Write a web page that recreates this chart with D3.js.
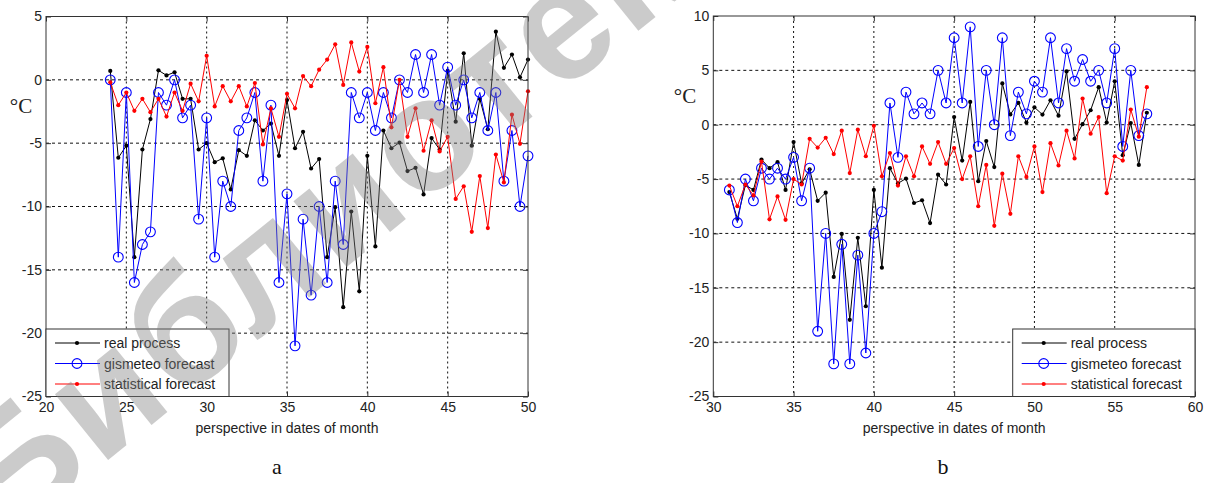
<!DOCTYPE html>
<html><head><meta charset="utf-8">
<script src="https://cdn.jsdelivr.net/npm/d3@7"></script>
<style>body{margin:0;background:#fff;} svg{display:block;}</style>
</head><body>
<svg id="c" width="1205" height="483"></svg>
<script>
// ---------- data ----------
// real process (same measured series used in both panels)
const realDates = [24,24.5,25,25.5,26,26.5,27,27.5,28,28.5,29,29.5,30,30.5,31,31.5,32,32.5,33,33.5,34,34.5,35,35.5,36,36.5,37,37.5,38,38.5,39,39.5,40,40.5,41,41.5,42,42.5,43,43.5,44,44.5,45,45.5,46,46.5,47,47.5,48,48.5,49,49.5,50,50.5,51,51.5,52,52.5,53,53.5,54,54.5,55,55.5,56,56.5,57];
const realTemps = [0.7,-6.15,-5.2,-14.0,-5.5,-3.1,0.75,0.35,0.6,-1.5,-1.5,-5.5,-5.0,-6.5,-6.2,-8.65,-5.55,-6.0,-3.2,-4.0,-3.45,-6.0,-1.6,-5.4,-4.1,-7.0,-6.25,-14.0,-10.05,-17.95,-10.4,-16.7,-6.0,-13.15,-4.0,-5.4,-4.95,-7.2,-6.95,-9.05,-4.6,-5.5,0.7,-3.3,2.1,-5.2,-1.5,-3.9,3.8,0.95,2.0,0.2,1.6,0.93,2.25,0.83,4.9,-1.3,0.05,1.33,3.45,0.2,4.0,-2.8,0.15,-3.7,1.1];

// panel a forecasts
const datesA = [24,24.5,25,25.5,26,26.5,27,27.5,28,28.5,29,29.5,30,30.5,31,31.5,32,32.5,33,33.5,34,34.5,35,35.5,36,36.5,37,37.5,38,38.5,39,39.5,40,40.5,41,41.5,42,42.5,43,43.5,44,44.5,45,45.5,46,46.5,47,47.5,48,48.5,49,49.5,50];
const gismeteoA = [0,-14,-1,-16,-13,-12,-1,-2,0,-3,-2,-11,-3,-14,-8,-10,-4,-3,-1,-8,-2,-16,-9,-21,-11,-17,-10,-16,-8,-13,-1,-3,-1,-4,-1,-3,0,-1,2,-1,2,-2,1,-2,0,-3,-1,-4,-1,-8,-4,-10,-6];
const statisticalA = [-0.2,-2.0,-1.0,-2.45,-1.5,-2.55,-1.5,-2.9,-1.0,-2.45,-0.3,-1.7,1.9,-2.1,-0.5,-1.7,-0.5,-2.1,-0.25,-5.1,-2.25,-4.5,-1.1,-2.25,0.3,-0.5,0.8,1.6,2.8,-0.4,2.95,0.65,2.6,-1.85,1.0,-3.75,0.0,-4.5,-2.25,-5.6,-3.2,-5.65,-4.5,-9.4,-8.4,-12.0,-7.6,-11.7,-5.9,-8.1,-2.75,-5.05,-0.9];

// panel b forecasts
const datesB = [31,31.5,32,32.5,33,33.5,34,34.5,35,35.5,36,36.5,37,37.5,38,38.5,39,39.5,40,40.5,41,41.5,42,42.5,43,43.5,44,44.5,45,45.5,46,46.5,47,47.5,48,48.5,49,49.5,50,50.5,51,51.5,52,52.5,53,53.5,54,54.5,55,55.5,56,56.5,57];
const gismeteoB = [-6,-9,-5,-7,-4,-5,-4,-5,-3,-7,-4,-19,-10,-22,-11,-22,-12,-21,-10,-8,2,-3,3,1,2,1,5,2,8,2,9,-2,5,0,8,-1,3,1,4,3,8,2,7,4,6,4,5,2,7,-2,5,-1,1];
const statisticalB = [-5.6,-7.5,-5.5,-6.5,-3.4,-8.7,-6.6,-8.75,-5.0,-5.5,-1.3,-2.1,-1.2,-2.7,-0.55,-4.45,-0.46,-2.9,-0.1,-4.75,-2.6,-5.6,-2.9,-4.75,-2.0,-3.6,-1.6,-3.6,-2.15,-5.0,-2.9,-7.5,-3.7,-9.3,-4.5,-8.2,-2.9,-4.8,-2.0,-6.2,-1.7,-3.75,-0.55,-3.1,2.4,-0.83,0.7,-6.3,-2.9,-3.3,1.4,-1.1,3.45];

// axes ticks
const xTicksA = [20,25,30,35,40,45,50];
const yTicksA = [-25,-20,-15,-10,-5,0,5];
const xTicksB = [30,35,40,45,50,55,60];
const yTicksB = [-25,-20,-15,-10,-5,0,5,10];

const legendLabels = ["real process","gismeteo forecast","statistical forecast"];
const xLabel = "perspective in dates of month";
const yLabel = "°C";
const panelLetters = ["a","b"];
const watermark = "Библиотека";

// ---------- drawing ----------
const svg = d3.select("#c");
svg.append("rect").attr("width",1205).attr("height",483).attr("fill","#fff");

const FONT = "'Liberation Sans', Arial, sans-serif";
const SERIF = "'Liberation Serif', 'Times New Roman', serif";

function realSlice(lo, hi){
  const out = [];
  realDates.forEach((d,i)=>{ if(d>=lo && d<=hi) out.push([d, realTemps[i]]); });
  return out;
}

function drawPanel(cfg){
  const g = svg.append("g");
  const x = d3.scaleLinear().domain([cfg.xTicks[0], cfg.xTicks[cfg.xTicks.length-1]]).range([cfg.left, cfg.right]);
  const y = d3.scaleLinear().domain([cfg.yTicks[0], cfg.yTicks[cfg.yTicks.length-1]]).range([cfg.bottom, cfg.top]);

  g.append("rect").attr("x",cfg.left).attr("y",cfg.top)
   .attr("width",cfg.right-cfg.left).attr("height",cfg.bottom-cfg.top).attr("fill","#fff");

  // grid
  g.selectAll(".vg").data(cfg.xTicks.slice(1,-1)).join("line")
    .attr("x1",d=>x(d)).attr("x2",d=>x(d)).attr("y1",cfg.top).attr("y2",cfg.bottom)
    .attr("stroke","#111").attr("stroke-width",1).attr("stroke-dasharray","2,3");
  g.selectAll(".hg").data(cfg.yTicks.slice(1,-1)).join("line")
    .attr("y1",d=>y(d)).attr("y2",d=>y(d)).attr("x1",cfg.left).attr("x2",cfg.right)
    .attr("stroke","#111").attr("stroke-width",1).attr("stroke-dasharray","3,3");

  const line = d3.line().x(d=>x(d[0])).y(d=>y(d[1]));
  const real = realSlice(cfg.dates[0], cfg.dates[cfg.dates.length-1]);
  const gis = cfg.dates.map((d,i)=>[d, cfg.gis[i]]);
  const stat = cfg.dates.map((d,i)=>[d, cfg.stat[i]]);

  g.append("path").datum(real).attr("d",line).attr("fill","none").attr("stroke","#000").attr("stroke-width",1);
  g.selectAll(".rp").data(real).join("circle").attr("cx",d=>x(d[0])).attr("cy",d=>y(d[1])).attr("r",2.1).attr("fill","#000");

  g.append("path").datum(gis).attr("d",line).attr("fill","none").attr("stroke","#0000ff").attr("stroke-width",1);
  g.selectAll(".gp").data(gis).join("circle").attr("cx",d=>x(d[0])).attr("cy",d=>y(d[1])).attr("r",4.9)
    .attr("fill","none").attr("stroke","#0000ff").attr("stroke-width",1.1);

  g.append("path").datum(stat).attr("d",line).attr("fill","none").attr("stroke","#ff0000").attr("stroke-width",1);
  g.selectAll(".sp").data(stat).join("circle").attr("cx",d=>x(d[0])).attr("cy",d=>y(d[1])).attr("r",2.1).attr("fill","#ff0000");

  // axes
  const fmt = d=>String(d);
  const ax = [
    g.append("g").attr("transform",`translate(0,${cfg.bottom})`).call(d3.axisBottom(x).tickValues(cfg.xTicks).tickSizeInner(-5).tickSizeOuter(0).tickPadding(6).tickFormat(fmt)),
    g.append("g").attr("transform",`translate(0,${cfg.top})`).call(d3.axisTop(x).tickValues(cfg.xTicks).tickSizeInner(-5).tickSizeOuter(0).tickFormat("")),
    g.append("g").attr("transform",`translate(${cfg.left},0)`).call(d3.axisLeft(y).tickValues(cfg.yTicks).tickSizeInner(-5).tickSizeOuter(0).tickPadding(4).tickFormat(fmt)),
    g.append("g").attr("transform",`translate(${cfg.right},0)`).call(d3.axisRight(y).tickValues(cfg.yTicks).tickSizeInner(-5).tickSizeOuter(0).tickFormat(""))
  ];
  ax.forEach(a=>{
    a.select(".domain").remove();
    a.selectAll(".tick line").attr("stroke","#333");
    a.selectAll("text").attr("font-family",FONT).attr("font-size",14).attr("fill","#222");
  });

  g.append("rect").attr("x",cfg.left).attr("y",cfg.top)
   .attr("width",cfg.right-cfg.left).attr("height",cfg.bottom-cfg.top)
   .attr("fill","none").attr("stroke","#333").attr("stroke-width",1);

  // labels
  g.append("text").attr("x",(cfg.left+cfg.right)/2).attr("y",cfg.bottom+36).attr("text-anchor","middle")
   .attr("font-family",FONT).attr("font-size",14).attr("fill","#222").text(xLabel);
  g.append("text").attr("x",cfg.ylabX).attr("y",cfg.ylabY).attr("text-anchor","middle")
   .attr("font-family",SERIF).attr("font-size",21).attr("fill","#222").text(yLabel);
  g.append("text").attr("x",cfg.letterX).attr("y",474).attr("text-anchor","middle")
   .attr("font-family",SERIF).attr("font-size",22).attr("fill","#111").text(cfg.letter);

  // legend
  const L = cfg.legend;
  const lg = g.append("g");
  lg.append("rect").attr("x",L.x).attr("y",L.y).attr("width",L.w).attr("height",L.h)
    .attr("fill","#fff").attr("stroke","#333").attr("stroke-width",1);
  const styles = [{c:"#000",m:"dot"},{c:"#0000ff",m:"ring"},{c:"#ff0000",m:"dot"}];
  legendLabels.forEach((t,i)=>{
    const yy = L.y + 14 + i*20.5;
    lg.append("line").attr("x1",L.x+9).attr("x2",L.x+54).attr("y1",yy).attr("y2",yy).attr("stroke",styles[i].c).attr("stroke-width",1);
    if(styles[i].m==="dot") lg.append("circle").attr("cx",L.x+31).attr("cy",yy).attr("r",2.1).attr("fill",styles[i].c);
    else lg.append("circle").attr("cx",L.x+31).attr("cy",yy).attr("r",4.9).attr("fill","none").attr("stroke",styles[i].c).attr("stroke-width",1.1);
    lg.append("text").attr("x",L.x+58).attr("y",yy+5).attr("font-family",FONT).attr("font-size",14).attr("fill","#222").text(t);
  });
}

drawPanel({left:46,right:528,top:16.5,bottom:396.5,xTicks:xTicksA,yTicks:yTicksA,
  dates:datesA,gis:gismeteoA,stat:statisticalA,ylabX:21,ylabY:113,letterX:277,letter:panelLetters[0],
  legend:{x:46,y:329,w:183,h:67.5}});
drawPanel({left:713.3,right:1195,top:16,bottom:396.5,xTicks:xTicksB,yTicks:yTicksB,
  dates:datesB,gis:gismeteoB,stat:statisticalB,ylabX:685,ylabY:103,letterX:943,letter:panelLetters[1],
  legend:{x:1012.7,y:329,w:182.3,h:67.5}});

// watermark
svg.append("text").attr("transform","translate(7,542) rotate(-39)")
  .attr("font-family",FONT).attr("font-weight","bold").attr("font-size",160).attr("letter-spacing",4)
  .attr("fill","#808080").attr("opacity",0.4).text(watermark);
</script>
</body></html>
